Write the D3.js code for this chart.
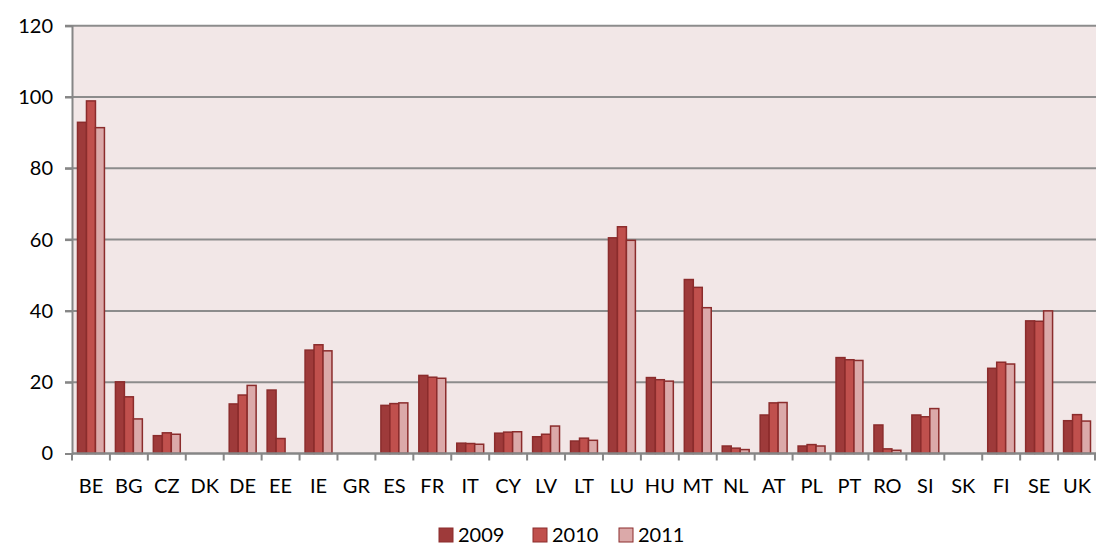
<!DOCTYPE html>
<html>
<head>
<meta charset="utf-8">
<script src="https://cdn.jsdelivr.net/npm/d3@7"></script>
<style>
  body { margin: 0; background: #fff; }
  text { font-family: Lato, "Open Sans", sans-serif; fill: #000; }
</style>
</head>
<body>
<div id="chart"></div>
<script>
// categories and series values
var countries = ["BE","BG","CZ","DK","DE","EE","IE","GR","ES","FR","IT","CY","LV","LT","LU","HU","MT","NL","AT","PL","PT","RO","SI","SK","FI","SE","UK"];
var years = ["2009", "2010", "2011"];
var v2009 = [92.9, 20.1, 5.0, 0, 13.9, 17.8, 29.0, 0, 13.5, 21.9, 2.9, 5.7, 4.7, 3.5, 60.5, 21.3, 48.8, 2.1, 10.8, 2.1, 26.9, 8.0, 10.8, 0, 23.9, 37.2, 9.2];
var v2010 = [98.9, 15.9, 5.8, 0, 16.4, 4.2, 30.5, 0, 14.0, 21.4, 2.8, 6.0, 5.4, 4.3, 63.6, 20.7, 46.6, 1.5, 14.2, 2.5, 26.3, 1.3, 10.3, 0, 25.6, 37.1, 10.9];
var v2011 = [91.4, 9.7, 5.4, 0, 19.1, 0, 28.8, 0, 14.2, 21.1, 2.6, 6.1, 7.7, 3.7, 59.8, 20.3, 40.9, 1.1, 14.3, 2.1, 26.1, 0.9, 12.6, 0, 25.1, 40.0, 9.1];
var yTicks = [0, 20, 40, 60, 80, 100, 120];
var colors = ["#9e3a3a", "#c0504d", "#dba9a9"];

var series = [v2009, v2010, v2011];

// set the dimensions and margins of the graph
var W = 1096, H = 546;
var margin = {top: 25.7, right: 0, bottom: 92.5, left: 72},
    width = W - margin.left - margin.right,
    height = H - margin.top - margin.bottom;

var svg = d3.select("#chart")
  .append("svg")
  .attr("width", W)
  .attr("height", H)
  .append("g")
    .attr("transform", "translate(" + margin.left + "," + margin.top + ")");

var x0 = d3.scaleBand()
  .domain(countries)
  .range([0, width])
  .paddingInner(0.29)
  .paddingOuter(0.145);

var x1 = d3.scaleBand()
  .domain(years)
  .range([0, x0.bandwidth()]);

var y = d3.scaleLinear()
  .domain([0, 120])
  .range([height, 0]);

// plot background
svg.append("rect")
  .attr("width", width)
  .attr("height", height)
  .attr("fill", "#f2e7e7");

// gridlines
svg.append("g")
  .selectAll("line")
  .data(yTicks.filter(function(d) { return d > 0; }))
  .join("line")
    .attr("x1", -7)
    .attr("x2", width)
    .attr("y1", function(d) { return y(d); })
    .attr("y2", function(d) { return y(d); })
    .attr("stroke", "#8c8c8c")
    .attr("stroke-width", 2);

// bars
var rows = countries.map(function(c, i) {
  return {c: c, vals: years.map(function(yr, j) { return {yr: yr, v: series[j][i], k: j}; })};
});

svg.append("g")
  .selectAll("g")
  .data(rows)
  .join("g")
    .attr("transform", function(d) { return "translate(" + x0(d.c) + ",0)"; })
  .selectAll("rect")
  .data(function(d) { return d.vals.filter(function(e) { return e.v > 0; }); })
  .join("rect")
    .attr("x", function(d) { return x1(d.yr); })
    .attr("y", function(d) { return y(d.v); })
    .attr("width", x1.bandwidth())
    .attr("height", function(d) { return height - y(d.v); })
    .attr("fill", function(d) { return colors[d.k]; })
    .attr("stroke", "#8b2c2c")
    .attr("stroke-width", 1.5);

// Y axis
var yAxis = svg.append("g")
  .call(d3.axisLeft(y)
    .tickValues(yTicks)
    .tickSize(7)
    .tickPadding(12));
yAxis.select(".domain").attr("stroke", "#868686").attr("stroke-width", 2);
yAxis.selectAll(".tick line").attr("stroke", "#868686").attr("stroke-width", 2);
yAxis.selectAll("text").attr("font-size", 20).attr("font-family", "Lato, sans-serif").attr("fill", "#000");

// X axis: line + ticks between categories
var xg = svg.append("g").attr("transform", "translate(0," + height + ")");
xg.append("line")
  .attr("x1", 0).attr("x2", width)
  .attr("stroke", "#868686").attr("stroke-width", 2.5);
var step = x0.step();
xg.selectAll("line.tk")
  .data(d3.range(countries.length + 1))
  .join("line")
    .attr("class", "tk")
    .attr("x1", function(i) { return Math.min(i * step, width - 1); })
    .attr("x2", function(i) { return Math.min(i * step, width - 1); })
    .attr("y1", 0).attr("y2", 7)
    .attr("stroke", "#868686").attr("stroke-width", 2);
xg.selectAll("text")
  .data(countries)
  .join("text")
    .attr("x", function(d) { return x0(d) + x0.bandwidth() / 2; })
    .attr("y", 39)
    .attr("text-anchor", "middle")
    .attr("font-size", 20)
    .text(function(d) { return d; });

// legend
var legendX = [439, 533, 619];
var legend = d3.select("svg").append("g");
years.forEach(function(yr, j) {
  var lg = legend.append("g").attr("transform", "translate(" + legendX[j] + ",528)");
  lg.append("rect")
    .attr("width", 14).attr("height", 14)
    .attr("fill", colors[j])
    .attr("stroke", "#8b2c2c").attr("stroke-width", 1);
  lg.append("text")
    .attr("x", 19).attr("y", 14)
    .attr("font-size", 20)
    .text(yr);
});
</script>
</body>
</html>
